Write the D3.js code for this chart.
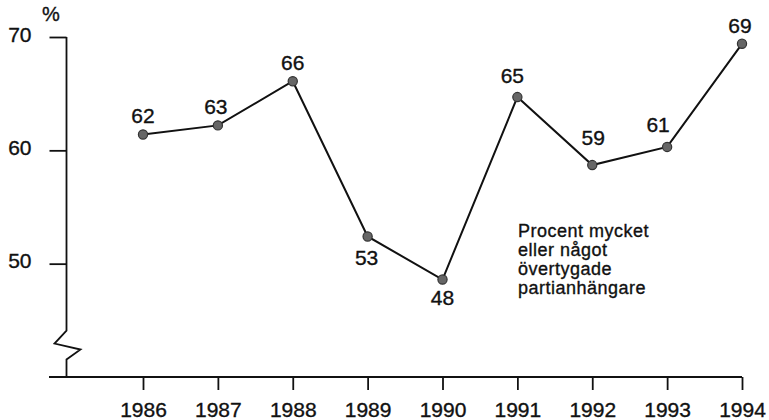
<!DOCTYPE html>
<html>
<head>
<meta charset="utf-8">
<script src="https://cdn.jsdelivr.net/npm/d3@7"></script>
<style>
  body { margin: 0; background: #fff; }
  text { font-family: "Liberation Sans", Arial, Helvetica, sans-serif; fill: #111; stroke: #111; stroke-width: 0.35px; }
</style>
</head>
<body>
<svg width="769" height="420"></svg>
<script>
// data
const years = [1986, 1987, 1988, 1989, 1990, 1991, 1992, 1993, 1994];
const values = [61.4, 62.2, 66.1, 52.4, 48.6, 64.7, 58.7, 60.3, 69.4];
const labels = ['62', '63', '66', '53', '48', '65', '59', '61', '69'];
const yTicks = [50, 60, 70];
const note = ['Procent mycket', 'eller något', 'övertygade', 'partianhängare'];

const svg = d3.select('svg');

const x = d3.scaleLinear().domain([1986, 1994]).range([143, 742]);
const y = d3.scaleLinear().domain([40, 70]).range([377, 37]);
const x0 = 66.5;

// x axis
const xAxis = svg.append('g')
  .attr('transform', `translate(0,${y(40)})`)
  .call(d3.axisBottom(x).tickValues(years).tickFormat(d3.format('d'))
    .tickSize(13).tickPadding(12));
xAxis.select('.domain').remove();
xAxis.selectAll('line').attr('stroke', '#111').attr('stroke-width', 1.8);
xAxis.selectAll('text').attr('font-size', 21).attr('fill', '#111');

svg.append('line')
  .attr('x1', 49).attr('x2', x(1994))
  .attr('y1', y(40)).attr('y2', y(40))
  .attr('stroke', '#111').attr('stroke-width', 1.8);

// y axis
const yAxis = svg.append('g')
  .attr('transform', `translate(${x0},0)`)
  .call(d3.axisLeft(y).tickValues(yTicks).tickSize(17).tickPadding(18));
yAxis.select('.domain').remove();
yAxis.selectAll('line').attr('stroke', '#111').attr('stroke-width', 1.8);
yAxis.selectAll('text').attr('font-size', 21).attr('dy', '0.2em').attr('fill', '#111');

// axis line with break
const yb = y(44.1);
svg.append('path')
  .attr('d', d3.line()([
    [x0, y(70)], [x0, yb], [x0 - 12, yb + 13], [x0 + 14, yb + 19],
    [x0, yb + 29], [x0, y(40)]
  ]))
  .attr('fill', 'none').attr('stroke', '#111').attr('stroke-width', 1.8);

svg.append('text')
  .attr('x', 51).attr('y', 21)
  .attr('text-anchor', 'middle').attr('font-size', 20)
  .text('%');

// series
const pts = years.map((yr, i) => [x(yr), y(values[i])]);

svg.append('path')
  .attr('d', d3.line()(pts))
  .attr('fill', 'none').attr('stroke', '#111').attr('stroke-width', 2);

svg.selectAll('circle.pt')
  .data(pts)
  .join('circle')
  .attr('class', 'pt')
  .attr('cx', d => d[0]).attr('cy', d => d[1])
  .attr('r', 4.6)
  .attr('fill', '#666').attr('stroke', '#333').attr('stroke-width', 1.2);

// value labels: offset from the point
const labelOffset = {
  1986: [0, -11], 1987: [-2, -11], 1988: [0, -11], 1989: [-1, 29], 1990: [0, 25],
  1991: [-5, -14], 1992: [1, -20], 1993: [-9, -15], 1994: [-2, -11]
};
svg.selectAll('text.val')
  .data(years)
  .join('text')
  .attr('class', 'val')
  .attr('x', (d, i) => pts[i][0] + labelOffset[d][0])
  .attr('y', (d, i) => pts[i][1] + labelOffset[d][1])
  .attr('text-anchor', 'middle').attr('font-size', 21)
  .text((d, i) => labels[i]);

// note
svg.append('text')
  .attr('font-size', 18).attr('letter-spacing', 0.5)
  .selectAll('tspan')
  .data(note)
  .join('tspan')
  .attr('x', 518)
  .attr('y', (d, i) => 237 + i * 19)
  .text(d => d);
</script>
</body>
</html>
